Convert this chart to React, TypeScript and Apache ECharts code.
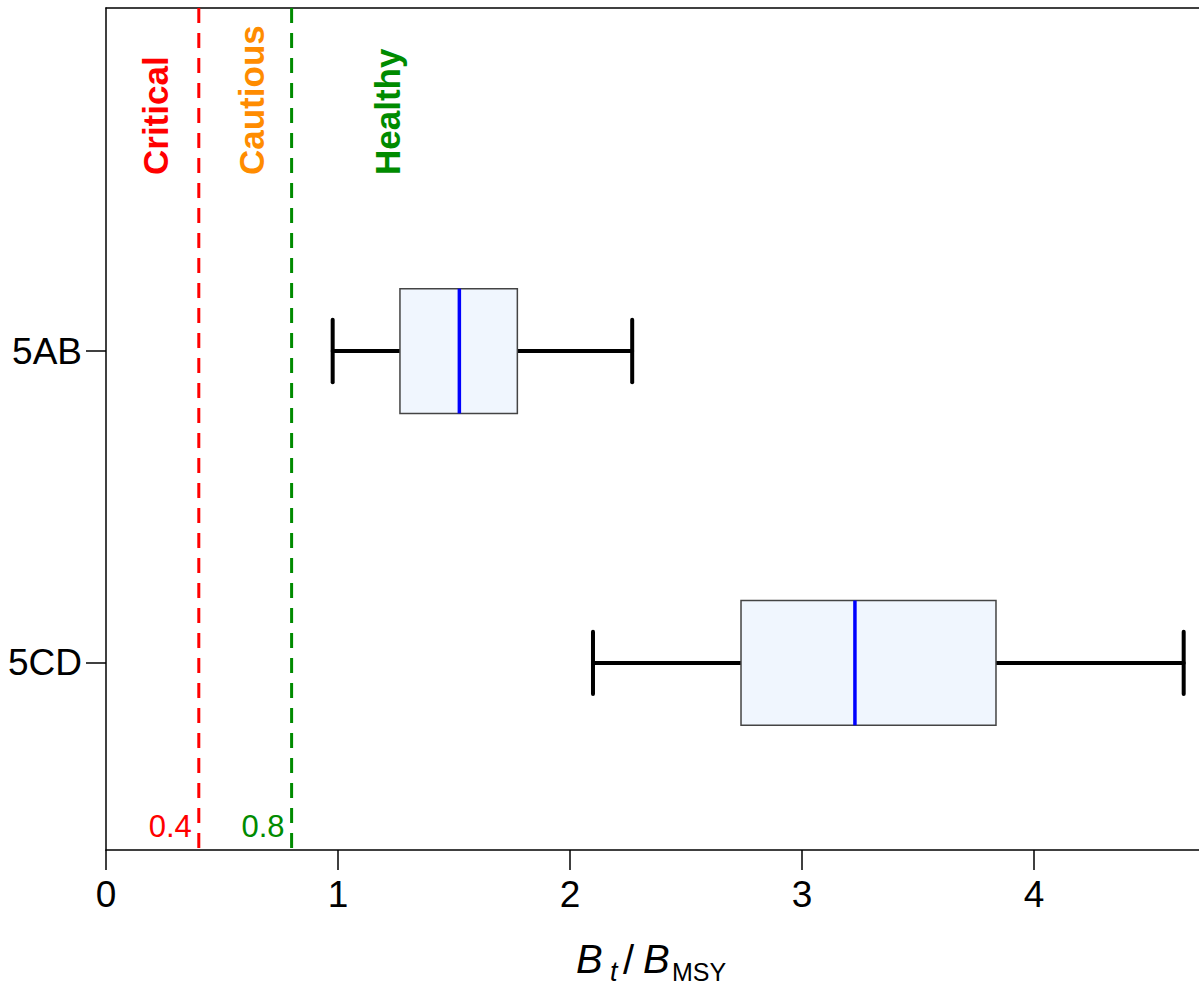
import React, { useEffect, useRef } from "react";
import * as echarts from "echarts";

// ---- data ----
const categories = ["5AB", "5CD"];
const categoryPos = [2, 1];
const whiskerLow = [0.977, 2.099];
const q1 = [1.267, 2.737];
const median = [1.523, 3.228];
const q3 = [1.773, 3.836];
const whiskerHigh = [2.268, 4.645];

const thresholdValues = [0.4, 0.8];
const thresholdLabels = ["0.4", "0.8"];
const thresholdColors = ["#FF0000", "#008B00"];

const zoneNames = ["Critical", "Cautious", "Healthy"];
const zoneColors = ["#FF0000", "#FF8C00", "#008B00"];
const zoneLabelX = [0.215, 0.625, 1.215];

const xTicks = [0, 1, 2, 3, 4];

const FONT = "Liberation Sans, Arial, sans-serif";

export default function App() {
  const ref = useRef<HTMLDivElement>(null);
  useEffect(() => {
    if (!ref.current) return;
    const chart = echarts.init(ref.current, null, { renderer: "svg" });
    const X_MIN = 0, X_MAX = 4.711, Y_MIN = 0.4, Y_MAX = 3.1;
    const boxData = categories.map((c, i) => [
      categoryPos[i], whiskerLow[i], q1[i], median[i], q3[i], whiskerHigh[i],
    ]);
    const titleText = (text: string, x: number, y: number, size: number, italic: boolean) => ({
      type: "text",
      x,
      y,
      style: {
        text,
        fontSize: size,
        fontStyle: italic ? "italic" : "normal",
        fontFamily: FONT,
        fill: "#000",
        verticalAlign: "bottom",
      },
    });
    const option: any = {
      animation: false,
      grid: { left: 106, right: 0, top: 8, bottom: 138, containLabel: false },
      xAxis: [
        {
          type: "value",
          min: X_MIN,
          max: X_MAX,
          splitLine: { show: false },
          axisLine: { show: true, lineStyle: { color: "#000", width: 1.5 } },
          axisTick: { show: true, length: 20, customValues: xTicks, lineStyle: { color: "#000", width: 1.5 } },
          axisLabel: {
            customValues: xTicks,
            fontSize: 37,
            color: "#000",
            fontFamily: FONT,
            margin: 26,
          },
        },
        {
          type: "value",
          position: "top",
          min: X_MIN,
          max: X_MAX,
          splitLine: { show: false },
          axisLine: { show: true, onZero: false, lineStyle: { color: "#000", width: 1.5 } },
          axisTick: { show: false },
          axisLabel: { show: false },
        },
      ],
      yAxis: {
        type: "value",
        min: Y_MIN,
        max: Y_MAX,
        splitLine: { show: false },
        axisLine: { show: true, onZero: false, lineStyle: { color: "#000", width: 1.5 } },
        axisTick: { show: true, length: 20, customValues: categoryPos, lineStyle: { color: "#000", width: 1.5 } },
        axisLabel: {
          customValues: categoryPos,
          formatter: (v: number) => {
            const i = categoryPos.indexOf(v);
            return i >= 0 ? categories[i] : "";
          },
          fontSize: 37,
          color: "#000",
          fontFamily: FONT,
          margin: 24,
        },
      },
      series: [
        {
          type: "custom",
          name: "thresholds",
          data: thresholdValues.map((v, i) => [v, i]),
          encode: { x: 0 },
          renderItem: (params: any, api: any) => {
            const v = api.value(0);
            const i = api.value(1);
            const top = api.coord([v, Y_MAX]);
            const bot = api.coord([v, Y_MIN]);
            return {
              type: "group",
              children: [
                {
                  type: "line",
                  shape: { x1: top[0], y1: top[1], x2: bot[0], y2: bot[1] },
                  style: { stroke: thresholdColors[i], lineWidth: 3, lineDash: [15, 10] },
                },
                {
                  type: "text",
                  x: bot[0] - 7,
                  y: bot[1] - 8,
                  style: {
                    text: thresholdLabels[i],
                    fill: thresholdColors[i],
                    fontSize: 31,
                    fontFamily: FONT,
                    align: "right",
                    verticalAlign: "bottom",
                  },
                },
              ],
            };
          },
          z: 2,
        },
        {
          type: "custom",
          name: "zones",
          data: zoneNames.map((n, i) => [zoneLabelX[i], i]),
          encode: { x: 0 },
          renderItem: (params: any, api: any) => {
            const i = api.value(1);
            const p = api.coord([api.value(0), Y_MAX]);
            return {
              type: "text",
              x: p[0],
              y: 175,
              rotation: Math.PI / 2,
              style: {
                text: zoneNames[i],
                fill: zoneColors[i],
                fontSize: 35,
                fontWeight: "bold",
                fontFamily: FONT,
                align: "left",
                verticalAlign: "middle",
              },
            };
          },
          z: 3,
        },
        {
          type: "custom",
          name: "boxes",
          data: boxData,
          encode: { y: 0, x: [1, 2, 3, 4, 5] },
          renderItem: (params: any, api: any) => {
            const y = api.value(0);
            const lo = api.coord([api.value(1), y]);
            const b1 = api.coord([api.value(2), y]);
            const md = api.coord([api.value(3), y]);
            const b3 = api.coord([api.value(4), y]);
            const hi = api.coord([api.value(5), y]);
            const boxH = api.size([0, 0.4])[1];
            const capH = api.size([0, 0.2])[1];
            const cy = lo[1];
            const black = { stroke: "#000", lineWidth: 4, lineCap: "round" };
            return {
              type: "group",
              children: [
                { type: "line", shape: { x1: lo[0], y1: cy, x2: b1[0], y2: cy }, style: black },
                { type: "line", shape: { x1: b3[0], y1: cy, x2: hi[0], y2: cy }, style: black },
                { type: "line", shape: { x1: lo[0], y1: cy - capH / 2, x2: lo[0], y2: cy + capH / 2 }, style: black },
                { type: "line", shape: { x1: hi[0], y1: cy - capH / 2, x2: hi[0], y2: cy + capH / 2 }, style: black },
                {
                  type: "rect",
                  shape: { x: b1[0], y: cy - boxH / 2, width: b3[0] - b1[0], height: boxH },
                  style: { fill: "#F0F6FE", stroke: "#444", lineWidth: 1.5 },
                },
                {
                  type: "line",
                  shape: { x1: md[0], y1: cy - boxH / 2, x2: md[0], y2: cy + boxH / 2 },
                  style: { stroke: "#0000FF", lineWidth: 3.5 },
                },
              ],
            };
          },
          z: 4,
        },
      ],
      graphic: [
        titleText("B", 576, 979, 40, true),
        titleText("t", 610, 985, 27, true),
        titleText("/", 623, 980, 40, false),
        titleText("B", 643, 979, 40, true),
        titleText("MSY", 672, 984, 25, false),
      ],
    };
    chart.setOption(option);
    return () => chart.dispose();
  }, []);
  return (
    <div
      ref={ref}
      style={{ position: "fixed", left: 0, top: 0, width: 1199, height: 988, background: "#fff" }}
    />
  );
}
